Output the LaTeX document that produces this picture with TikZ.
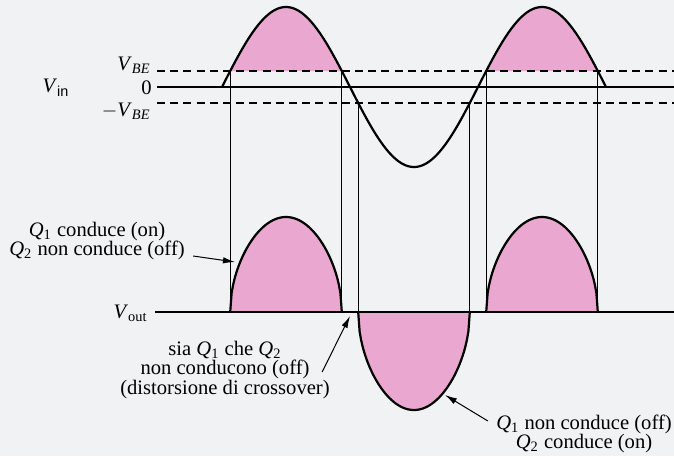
\documentclass[tikz,border=0pt]{standalone}
\usepackage{fontspec}
\setmainfont{Liberation Serif}
\setsansfont{Liberation Sans}
\usetikzlibrary{positioning,arrows.meta}
\definecolor{figpink}{RGB}{234,168,208}
\definecolor{figpaper}{RGB}{241,242,244}
\newcommand{\tq}[1]{\textit{Q}\textsubscript{#1}}
\newcommand{\tv}[1]{\textit{V}\textsubscript{#1}}
\tikzset{
  fig/.style={font=\fontsize{10.3}{9.8}\selectfont},
  wave/.style={line width=1.1pt,line join=round},
  zeroline/.style={line width=0.8pt},
  thr/.style={line width=0.7pt,dash pattern=on 4pt off 2.6pt},
  vl/.style={line width=0.5pt},
  pinkfill/.style={fill=figpink,draw=none},
  lbl/.style={align=center,inner sep=1pt},
  ptr/.style={-{Latex[length=6pt,width=3.2pt]},line width=0.5pt},
}

\begin{document}
\begin{tikzpicture}[fig,x=0.5pt,y=-0.5pt]
\fill[figpaper] (0,0) rectangle (674,456);
\useasboundingbox (0,0) rectangle (674,456);

% V_in
\foreach \a/\b in {230.2/341.8,486.2/597.8}
  \fill[pinkfill] plot[domain=\a:\b,samples=60] (\x,{87-80*sin((\x-222)*1.40625)}) -- cycle;
\draw[thr] (157,71) -- (674,71);
\draw[zeroline] (157,87) -- (674,87);
\draw[thr] (157,103) -- (674,103);
\foreach \a/\t in {230.2/71,341.8/71,358.2/103,469.8/103,486.2/71,597.8/71}
  \draw[vl] (\a,\t) -- (\a,312);
\draw[wave] plot[domain=222:606,samples=200] (\x,{87-80*sin((\x-222)*1.40625)});

% V_out
\foreach \a/\b in {230.2/341.8,486.2/597.8}{
  \fill[pinkfill] plot[domain=\a:\b,samples=80] (\x,{312-95*sqrt(abs(sin((\x-\a)/(\b-\a)*180)))}) -- cycle;
  \draw[wave] plot[domain=\a:\b,samples=80] (\x,{312-95*sqrt(abs(sin((\x-\a)/(\b-\a)*180)))});
}
\fill[pinkfill] plot[domain=358.2:469.8,samples=80] (\x,{312+98*sqrt(abs(sin((\x-358.2)/111.6*180)))}) -- cycle;
\draw[wave] plot[domain=358.2:469.8,samples=80] (\x,{312+98*sqrt(abs(sin((\x-358.2)/111.6*180)))});
\draw[wave] (155,312) -- (674,312);

\node[lbl,anchor=base east] (vbe) at (153,70) {\tv{\textit{BE}}};
\node[lbl,anchor=east] (zero) at (154,88) {0};
\node[lbl,anchor=base east] (mvbe) at (153,116) {$-$\tv{\textit{BE}}};
\node[lbl] (vin) at (56,88) {\tv{\textsf{in}}};
\node[lbl,anchor=east] (vout) at (150,313) {\tv{out}};

\node[lbl] (q1on) at (97,241) {\tq{1} conduce (on)\\\tq{2} non conduce (off)};
\node[lbl] (both) at (225,370) {sia \tq{1} che \tq{2}\\non conducono (off)\\(distorsione di crossover)};
\node[lbl] (q2on) at (584,434) {\tq{1} non conduce (off)\\\tq{2} conduce (on)};

\coordinate (t1) at (235,262);
\coordinate (t2) at (350,316);
\coordinate (t3) at (445,395);
\draw[ptr] ([xshift=3pt,yshift=-7.5pt]q1on.east) -- (t1);
\draw[ptr] ([xshift=-5pt,yshift=-1pt]both.east) -- (t2);
\draw[ptr] ([xshift=-3pt,yshift=6.5pt]q2on.west) -- (t3);

\end{tikzpicture}
\end{document}
